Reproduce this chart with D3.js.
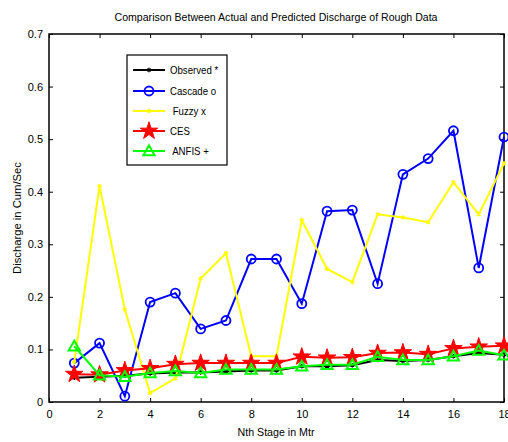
<!DOCTYPE html>
<html><head><meta charset="utf-8">
<script src="https://cdn.jsdelivr.net/npm/d3@7"></script>
<style>body{margin:0;background:#fff}svg{display:block;font-family:"Liberation Sans",Arial,sans-serif}</style>
</head><body><svg id="c" width="508" height="442"></svg>
<script>
const stages = [1,2,3,4,5,6,7,8,9,10,11,12,13,14,15,16,17,18];
const observed = [0.046,0.048,0.050,0.054,0.056,0.056,0.058,0.060,0.060,0.068,0.068,0.070,0.080,0.078,0.080,0.087,0.093,0.090];
const cascade = [0.074,0.112,0.011,0.190,0.207,0.139,0.155,0.272,0.272,0.187,0.363,0.365,0.225,0.433,0.463,0.516,0.255,0.504];
const fuzzy = [0.076,0.411,0.176,0.017,0.045,0.235,0.283,0.087,0.087,0.346,0.253,0.228,0.357,0.351,0.342,0.418,0.357,0.454];
const ces = [0.053,0.052,0.060,0.064,0.072,0.074,0.074,0.074,0.074,0.086,0.084,0.085,0.093,0.094,0.091,0.102,0.105,0.107];
const anfis = [0.106,0.051,0.048,0.055,0.059,0.055,0.062,0.062,0.062,0.068,0.071,0.071,0.086,0.080,0.080,0.087,0.098,0.089];
const xTicks = [0,2,4,6,8,10,12,14,16,18];
const yTicks = [0,0.1,0.2,0.3,0.4,0.5,0.6,0.7];
const seriesNames = ["Observed *","Cascade o"," Fuzzy x","CES"," ANFIS +"];
const seriesColors = ["#000000","#0000ff","#ffff00","#ff0000","#00ff00"];
const seriesMarkers = ["asterisk","circle","xstar","star","triangle"];
const seriesData = [observed,cascade,fuzzy,ces,anfis];

const svg = d3.select("#c");
const L=49,R=504,T=34,B=402;
const x = d3.scaleLinear().domain([0,18]).range([L,R]);
const y = d3.scaleLinear().domain([0,0.7]).range([B,T]);

svg.append("text").attr("x",276).attr("y",21).attr("text-anchor","middle").attr("font-size",11)
  .attr("textLength",323).attr("lengthAdjust","spacingAndGlyphs").text("Comparison Between Actual and Predicted Discharge of Rough Data");

const fmt = d=>d===0?"0":String(d);
svg.append("g").attr("transform",`translate(0,${B})`).call(d3.axisBottom(x).tickValues(xTicks).tickSize(-4).tickPadding(8).tickFormat(fmt))
  .call(g=>{g.select(".domain").remove();g.selectAll("text").attr("font-size",11).attr("font-family","Liberation Sans, Arial");});
svg.append("g").attr("transform",`translate(0,${T})`).call(d3.axisTop(x).tickValues(xTicks).tickSize(-4).tickFormat(""))
  .call(g=>g.select(".domain").remove());
svg.append("g").attr("transform",`translate(${L},0)`).call(d3.axisLeft(y).tickValues(yTicks).tickSize(-4).tickPadding(6).tickFormat(fmt))
  .call(g=>{g.select(".domain").remove();g.selectAll("text").attr("font-size",11).attr("font-family","Liberation Sans, Arial");});
svg.append("g").attr("transform",`translate(${R},0)`).call(d3.axisRight(y).tickValues(yTicks).tickSize(-4).tickFormat(""))
  .call(g=>g.select(".domain").remove());
svg.append("rect").attr("x",L).attr("y",T).attr("width",R-L).attr("height",B-T).attr("fill","none").attr("stroke","#000").attr("stroke-width",1.5);

svg.append("text").attr("x",276).attr("y",436).attr("text-anchor","middle").attr("font-size",11)
  .attr("textLength",77).attr("lengthAdjust","spacingAndGlyphs").text("Nth Stage in Mtr");
svg.append("text").attr("transform",`translate(21,${(T+B)/2}) rotate(-90)`).attr("text-anchor","middle").attr("font-size",11)
  .attr("textLength",112).attr("lengthAdjust","spacingAndGlyphs").text("Discharge in Cum/Sec");

function marker(g,type,cx,cy,color){
  if(type==="circle"){
    g.append("circle").attr("cx",cx).attr("cy",cy).attr("r",4.5).attr("fill","none").attr("stroke",color).attr("stroke-width",1.8);
  } else if(type==="star"){
    g.append("path").attr("transform",`translate(${cx},${cy})`).attr("d",d3.symbol(d3.symbolStar,95)()).attr("fill",color).attr("stroke",color).attr("stroke-width",1);
  } else if(type==="triangle"){
    g.append("path").attr("transform",`translate(${cx},${cy+1})`).attr("d",d3.symbol(d3.symbolTriangle,55)()).attr("fill","none").attr("stroke",color).attr("stroke-width",2);
  } else {
    g.append("path").attr("transform",`translate(${cx},${cy})`).attr("d",d3.symbol(d3.symbolAsterisk,14)()).attr("fill","none").attr("stroke",color).attr("stroke-width",1.3);
  }
}

const line = d3.line().x((d,i)=>x(stages[i])).y(d=>y(d));
seriesData.forEach((data,k)=>{
  const g = svg.append("g");
  g.append("path").datum(data).attr("d",line).attr("fill","none").attr("stroke",seriesColors[k]).attr("stroke-width",2);
  data.forEach((v,i)=>marker(g,seriesMarkers[k],x(stages[i]),y(v),seriesColors[k]));
});

const lg = svg.append("g");
lg.append("rect").attr("x",127).attr("y",55).attr("width",100).attr("height",110).attr("fill","#fff").attr("stroke","#000").attr("stroke-width",1.2);
const rows=[70,91,111,131,151];
seriesNames.forEach((n,k)=>{
  lg.append("line").attr("x1",133).attr("x2",165).attr("y1",rows[k]).attr("y2",rows[k]).attr("stroke",seriesColors[k]).attr("stroke-width",2);
  marker(lg,seriesMarkers[k],149,rows[k],seriesColors[k]);
  lg.append("text").attr("x",170).attr("y",rows[k]+4).attr("font-size",10.5).attr("xml:space","preserve").style("white-space","pre")
    .attr("transform",`translate(170,0) scale(0.92,1) translate(-170,0)`).text(n);
});
</script></body></html>
